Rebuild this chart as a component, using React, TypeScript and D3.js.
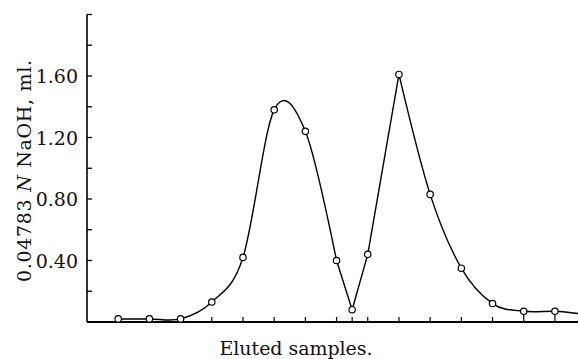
import React, { useEffect, useRef } from 'react';
import * as d3 from 'd3';

// sample numbers (x) and titration values (ml of 0.04783 N NaOH)
const samples = [1, 2, 3, 4, 5, 6, 7, 8, 8.5, 9, 10, 11, 12, 13, 14, 15];
const values = [0.02, 0.02, 0.02, 0.13, 0.42, 1.38, 1.24, 0.40, 0.08, 0.44, 1.61, 0.83, 0.35, 0.12, 0.07, 0.07];
// curve keeps going past the last sample to the edge
const tailSample = 15.74;
const tailValue = 0.055;
// smooth up to sample 8, straight through the valley, smooth again after the second peak
const smoothEnd = 8;
const smoothStart = 10;
const yTickValues = [0.2, 0.4, 0.6, 0.8, 1.0, 1.2, 1.4, 1.6, 1.8, 2.0];
const yTickLabels = ['0.40', '0.80', '1.20', '1.60'];
const xTickSamples = [1, 2, 3, 4, 5, 6, 7, 8, 8.5, 9, 10, 11, 12, 13, 14, 15];

const App = () => {
    const svgRef = useRef<SVGSVGElement>(null);

    useEffect(() => {
        const width = 578;
        const height = 359;
        const font = '"DejaVu Serif", "Liberation Serif", serif';

        const svg = d3.select(svgRef.current);
        svg.selectAll('*').remove();
        svg.attr('width', width).attr('height', height);

        const x = d3.scaleLinear().domain([0, 15.74]).range([87, 578]);
        const y = d3.scaleLinear().domain([0, 2]).range([322, 14.5]);

        // y axis, ticks pointing inward
        svg.append('line')
            .attr('x1', x(0)).attr('x2', x(0))
            .attr('y1', y(2)).attr('y2', y(0))
            .attr('stroke', '#000').attr('stroke-width', 1.6);
        svg.selectAll('.ytick')
            .data(yTickValues)
            .enter().append('line')
            .attr('x1', x(0)).attr('x2', x(0) + 5)
            .attr('y1', d => y(d)).attr('y2', d => y(d))
            .attr('stroke', '#000').attr('stroke-width', 1.3);
        svg.selectAll('.ylabel')
            .data(yTickLabels)
            .enter().append('text')
            .attr('x', 78)
            .attr('y', d => y(+d) + 7)
            .attr('text-anchor', 'end')
            .attr('font-family', font)
            .attr('font-size', 19)
            .attr('fill', '#111')
            .text(d => d);

        // x axis, ticks pointing up
        svg.append('line')
            .attr('x1', x(0)).attr('x2', width)
            .attr('y1', y(0)).attr('y2', y(0))
            .attr('stroke', '#000').attr('stroke-width', 1.8);
        svg.selectAll('.xtick')
            .data(xTickSamples)
            .enter().append('line')
            .attr('x1', d => x(d)).attr('x2', d => x(d))
            .attr('y1', y(0)).attr('y2', d => d >= 14 ? y(0.07) : y(0) - 5)
            .attr('stroke', '#000').attr('stroke-width', 1.2);

        // curve
        const pts = samples.map((s, i) => [s, values[i]] as [number, number]);
        const all = [...pts, [tailSample, tailValue] as [number, number]];
        const smooth = d3.line<[number, number]>()
            .x(d => x(d[0]))
            .y(d => y(d[1]))
            .curve(d3.curveCardinal.tension(0));
        const straight = d3.line<[number, number]>()
            .x(d => x(d[0]))
            .y(d => y(d[1]));
        const pieces = [
            smooth(all.filter(p => p[0] <= smoothEnd)),
            straight(all.filter(p => p[0] >= smoothEnd && p[0] <= smoothStart)),
            smooth(all.filter(p => p[0] >= smoothStart)),
        ];
        svg.selectAll('.piece')
            .data(pieces)
            .enter().append('path')
            .attr('d', d => d)
            .attr('fill', 'none')
            .attr('stroke', '#000')
            .attr('stroke-width', 1.4)
            .attr('stroke-linejoin', 'round');

        svg.selectAll('.pt')
            .data(pts)
            .enter().append('circle')
            .attr('cx', d => x(d[0]))
            .attr('cy', d => y(d[1]))
            .attr('r', 3.2)
            .attr('fill', '#fff')
            .attr('stroke', '#000')
            .attr('stroke-width', 1.2);

        // axis titles
        const yTitle = svg.append('text')
            .attr('transform', 'translate(31,171) rotate(-90)')
            .attr('text-anchor', 'middle')
            .attr('font-family', font)
            .attr('font-size', 19)
            .attr('fill', '#111')
            .attr('textLength', 222)
            .attr('lengthAdjust', 'spacing');
        yTitle.append('tspan').text('0.04783 ');
        yTitle.append('tspan').attr('font-style', 'italic').text('N');
        yTitle.append('tspan').text(' NaOH, ml.');

        svg.append('text')
            .attr('x', 296)
            .attr('y', 355)
            .attr('text-anchor', 'middle')
            .attr('font-family', font)
            .attr('font-size', 19)
            .attr('fill', '#111')
            .attr('textLength', 153)
            .attr('lengthAdjust', 'spacing')
            .text('Eluted samples.');
    }, []);

    return (
        <svg ref={svgRef} style={{ position: 'absolute', left: 0, top: 0, display: 'block', background: '#fff' }}></svg>
    );
};

export default App;
